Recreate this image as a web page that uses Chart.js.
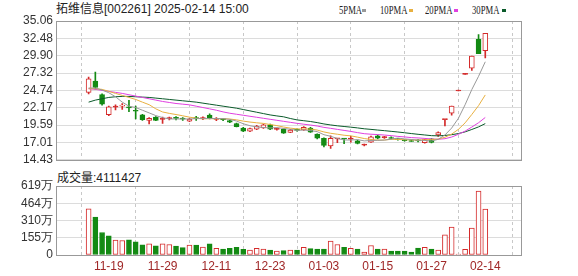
<!DOCTYPE html>
<html>
<head>
<meta charset="utf-8">
<script src="https://cdn.jsdelivr.net/npm/chart.js@4.4.1/dist/chart.umd.min.js"></script>
<style>
  body { margin: 0; background: #fff; }
  #wrap { position: relative; width: 578px; height: 276px; overflow: hidden; background: #fff;
          font-family: "Liberation Sans", "Noto Sans CJK SC", sans-serif; }
  canvas { position: absolute; left: 0; }
  .txt { position: absolute; white-space: nowrap; color: #222; font-size: 12px; line-height: 12px; }
  .lg { position: absolute; white-space: nowrap; color: #222; font-family: "Liberation Serif", serif;
        font-size: 12px; line-height: 12px; transform: scaleX(0.72); transform-origin: 0 0; }
  .dash { position: absolute; width: 4px; height: 3px; }
</style>
</head>
<body>
<div id="wrap">
  <div class="txt" id="title" style="left:56px;top:3px"></div>
  <div class="lg" style="left:339px;top:4px">5PMA</div><div class="dash" style="left:362px;top:9px;background:#999999"></div>
  <div class="lg" style="left:380px;top:4px">10PMA</div><div class="dash" style="left:409px;top:9px;background:#e8b040"></div>
  <div class="lg" style="left:425px;top:4px">20PMA</div><div class="dash" style="left:454px;top:9px;background:#e040e0"></div>
  <div class="lg" style="left:472px;top:4px">30PMA</div><div class="dash" style="left:502px;top:9px;background:#0a5a2a"></div>
  <canvas id="kline" width="578" height="170" style="top:0"></canvas>
  <div class="txt" id="volTitle" style="left:57px;top:172px"></div>
  <canvas id="vol" width="578" height="106" style="top:170px"></canvas>
</div>
<script>
// 拓维信息 daily candles, 2024-11-14 .. 2025-02-14
const dates = ["11-14","11-15","11-18","11-19","11-20","11-21","11-22","11-25","11-26","11-27",
  "11-28","11-29","12-02","12-03","12-04","12-05","12-06","12-09","12-10","12-11",
  "12-12","12-13","12-16","12-17","12-18","12-19","12-20","12-23","12-24","12-25",
  "12-26","12-27","12-30","12-31","01-02","01-03","01-06","01-07","01-08","01-09",
  "01-10","01-13","01-14","01-15","01-16","01-17","01-20","01-21","01-22","01-23",
  "01-24","01-27","02-05","02-06","02-07","02-10","02-11","02-12","02-13","02-14"];

const opens = [24.46,26.14,24.13,21.12,22.25,22.40,22.25,21.75,21.12,20.30,
  20.78,20.45,20.55,20.65,20.55,20.16,20.62,20.55,21.06,20.42,
  20.45,20.26,19.83,19.16,18.69,18.97,19.16,19.63,18.95,18.97,
  18.50,18.85,18.87,19.16,18.26,17.63,16.48,17.54,17.56,17.50,
  17.25,16.62,17.06,18.01,17.72,17.66,17.50,17.35,17.17,17.30,
  16.97,17.54,18.11,20.40,21.35,24.65,27.12,28.04,32.34,30.66];
const highs = [26.71,27.47,24.22,22.40,22.60,22.78,23.27,22.40,21.20,20.70,
  20.85,20.78,20.78,20.85,20.70,20.60,20.88,20.80,21.26,20.70,
  20.60,20.35,19.90,19.25,19.15,19.55,19.75,19.75,19.15,19.05,
  18.95,19.05,19.35,19.25,18.30,17.70,18.01,17.58,17.58,17.91,
  17.35,16.75,17.95,18.10,17.90,17.85,17.60,17.45,17.40,17.45,
  17.50,17.60,18.60,20.40,22.41,24.65,27.12,29.83,33.05,33.21];
const lows = [24.22,24.93,22.55,21.00,21.85,21.92,21.60,20.50,20.30,19.75,
  20.25,19.83,20.35,20.35,20.30,20.10,20.30,20.40,20.49,20.25,
  20.25,19.95,19.30,18.60,18.60,18.90,19.10,18.90,18.85,18.35,
  18.45,18.70,18.80,18.50,17.55,16.34,16.11,16.97,16.82,17.06,
  16.80,16.50,17.00,17.55,17.60,17.50,17.35,17.20,17.15,17.10,
  16.90,16.95,17.91,19.45,21.06,24.65,27.12,27.71,30.19,29.57];
const closes = [26.46,25.17,22.70,22.31,22.31,22.50,22.15,21.65,20.40,20.60,
  20.30,20.52,20.62,20.58,20.48,20.49,20.56,20.62,20.69,20.48,
  20.40,20.02,19.35,18.69,19.06,19.45,19.63,18.97,19.00,18.40,
  18.85,18.80,19.25,18.55,17.63,16.58,17.63,17.56,17.52,17.56,
  16.87,16.68,17.85,17.63,17.77,17.60,17.44,17.28,17.15,17.25,
  17.44,17.00,18.49,20.40,22.41,24.65,27.12,29.83,30.19,33.21];

// moving averages as drawn on the chart
const ma5 = [25.10,25.10,24.80,24.40,23.80,23.00,22.40,22.20,21.80,21.40,
  21.00,20.70,20.50,20.50,20.50,20.50,20.55,20.55,20.57,20.57,
  20.55,20.44,20.19,19.79,19.50,19.31,19.24,19.16,19.22,19.09,
  18.97,18.80,18.86,18.77,18.62,18.16,17.93,17.59,17.38,17.37,
  17.43,17.24,17.30,17.32,17.36,17.51,17.66,17.54,17.45,17.34,
  17.31,17.22,17.47,18.12,19.15,20.59,22.61,24.88,26.84,29.00];
const ma10 = [25.00,25.00,24.90,24.60,24.30,24.00,23.70,23.40,23.00,22.62,
  22.00,21.54,21.33,21.16,20.97,20.77,20.61,20.52,20.54,20.53,
  20.54,20.49,20.37,20.18,20.04,19.93,19.84,19.67,19.51,19.30,
  19.14,19.02,19.01,19.00,18.85,18.57,18.37,18.23,18.08,17.99,
  17.80,17.59,17.45,17.35,17.37,17.47,17.45,17.42,17.39,17.35,
  17.41,17.44,17.51,17.78,18.25,18.95,19.92,21.17,22.48,24.07];
const ma20 = [25.00,24.90,24.75,24.60,24.45,24.30,24.10,23.90,23.70,23.50,
  23.30,23.10,22.95,22.80,22.70,22.60,22.40,22.20,22.00,21.80,
  21.55,21.35,21.20,21.05,20.90,20.75,20.60,20.45,20.30,20.15,
  20.00,19.85,19.72,19.60,19.45,19.25,19.11,18.95,18.80,18.65,
  18.47,18.31,18.23,18.18,18.11,18.02,17.91,17.83,17.73,17.68,
  17.61,17.52,17.48,17.57,17.81,18.22,18.69,19.30,19.94,20.72];
const ma30 = [23.00,23.30,23.50,23.70,23.80,23.85,23.85,23.80,23.75,23.70,
  23.60,23.50,23.40,23.30,23.20,23.10,23.00,22.85,22.70,22.55,
  22.40,22.25,22.10,21.90,21.70,21.50,21.30,21.10,20.95,20.82,
  20.57,20.36,20.24,20.12,19.96,19.76,19.61,19.48,19.38,19.28,
  19.17,19.04,18.95,18.85,18.76,18.66,18.56,18.45,18.33,18.22,
  18.12,18.02,17.99,18.05,18.16,18.33,18.58,18.94,19.32,19.81];

// volume in 万 shares, and whether the bar is drawn red
const volumes = [414,341,202,172,133,130,136,118,91,100,
  82,100,94,79,66,88,88,72,100,60,
  54,60,69,51,45,60,54,45,36,39,
  45,45,69,57,54,54,124,94,69,60,
  54,27,85,54,54,36,36,36,27,63,
  69,54,45,181,251,9,51,242,574,411];
const volUp = [1,0,0,0,1,1,0,0,0,1,
  0,1,1,0,0,1,0,1,0,1,
  0,0,0,0,1,1,1,0,1,0,
  1,0,1,0,0,0,1,1,0,1,
  0,1,1,0,1,0,0,0,0,0,
  1,0,1,1,1,1,1,1,1,1];

const priceTicks = [14.43,17.01,19.59,22.17,24.74,27.32,29.90,32.48,35.06];
const volTicks = [0,155,310,464,619];
const labelIdx = [3,11,19,27,35,43,51,59];
const lastVolume = 4111427;

const RED = "#d42a2a";
const GREEN = "#138a13";
const font = { family: "Liberation Sans", size: 12 };

document.getElementById("title").textContent = "拓维信息[002261] 2025-02-14 15:00";
document.getElementById("volTitle").textContent = "成交量:" + lastVolume;

const idx = dates.map((d, i) => i);
const isUp = i => closes[i] >= opens[i];

const boxPlugin = {
  id: "box",
  afterDraw(chart) {
    const { ctx, chartArea: a } = chart;
    ctx.save();
    ctx.strokeStyle = "#999";
    ctx.lineWidth = 1;
    ctx.strokeRect(Math.round(a.left) + 0.5, Math.round(a.top) + 0.5,
      Math.round(a.right - a.left) - 1, Math.round(a.bottom - a.top));
    ctx.restore();
  }
};

const xScale = (showLabels) => ({
  type: "linear",
  min: -0.52,
  max: 60.13,
  afterBuildTicks: (s) => { s.ticks = labelIdx.map((v) => ({ value: v })); },
  ticks: {
    display: showLabels,
    autoSkip: false,
    maxRotation: 0,
    color: "#a02828",
    font: font,
    padding: 4,
    callback: (v) => dates[v]
  },
  grid: { color: "#c8c8c8", drawTicks: false },
  border: { display: false, dash: [3, 3] },
  afterFit: (s) => { s.height = showLabels ? 21 : 0; }
});

const yScale = (min, max, tickValues, fmt) => ({
  min: min,
  max: max,
  afterBuildTicks: (s) => { s.ticks = tickValues.map((v) => ({ value: v })); },
  ticks: { color: "#333", font: font, padding: 3, autoSkip: false, callback: fmt },
  grid: { color: "#dcdcdc", drawTicks: false },
  border: { display: false },
  afterFit: (s) => { s.width = 56; }
});

const maLine = (label, data, color) => ({
  type: "line",
  label: label,
  data: data.map((v, i) => ({ x: i, y: v })),
  borderColor: color,
  borderWidth: 1,
  pointRadius: 0,
  tension: 0,
  order: 0
});

new Chart(document.getElementById("kline"), {
  type: "bar",
  data: {
    datasets: [
      maLine("5PMA", ma5, "#999999"),
      maLine("10PMA", ma10, "#e8b040"),
      maLine("20PMA", ma20, "#e040e0"),
      maLine("30PMA", ma30, "#0a5a2a"),
      {
        label: "body",
        data: idx.map((i) => ({ x: i, y: [opens[i], closes[i]] })),
        backgroundColor: idx.map((i) => isUp(i) ? (Math.abs(closes[i] - opens[i]) < 0.1 ? RED : "#fff") : GREEN),
        borderColor: idx.map((i) => isUp(i) ? RED : GREEN),
        borderWidth: 1,
        borderSkipped: false,
        barThickness: 5,
        minBarLength: 1,
        grouped: false,
        order: 1
      },
      {
        label: "wick",
        data: idx.map((i) => ({ x: i, y: [lows[i], highs[i]] })),
        backgroundColor: idx.map((i) => isUp(i) ? RED : GREEN),
        barThickness: 1,
        minBarLength: 1,
        grouped: false,
        order: 2
      }
    ]
  },
  options: {
    responsive: false,
    animation: false,
    devicePixelRatio: 1,
    layout: { padding: { top: 21, right: 56, bottom: 5, left: 0 } },
    plugins: { legend: { display: false }, tooltip: { enabled: false } },
    scales: {
      x: xScale(false),
      y: yScale(14.43, 35.06, priceTicks, (v) => v.toFixed(2))
    }
  },
  plugins: [boxPlugin]
});

new Chart(document.getElementById("vol"), {
  type: "bar",
  data: {
    datasets: [{
      label: "volume",
      data: idx.map((i) => ({ x: i, y: volumes[i] })),
      backgroundColor: idx.map((i) => volUp[i] ? "#fff" : GREEN),
      borderColor: idx.map((i) => volUp[i] ? RED : GREEN),
      borderWidth: 1,
      borderSkipped: false,
      barThickness: 5,
      minBarLength: 1,
      grouped: false
    }]
  },
  options: {
    responsive: false,
    animation: false,
    devicePixelRatio: 1,
    layout: { padding: { top: 16, right: 56, bottom: 0, left: 0 } },
    plugins: { legend: { display: false }, tooltip: { enabled: false } },
    scales: {
      x: xScale(true),
      y: yScale(0, 619, volTicks, (v) => v === 0 ? "0" : v + "万")
    }
  },
  plugins: [boxPlugin]
});
</script>
</body>
</html>
